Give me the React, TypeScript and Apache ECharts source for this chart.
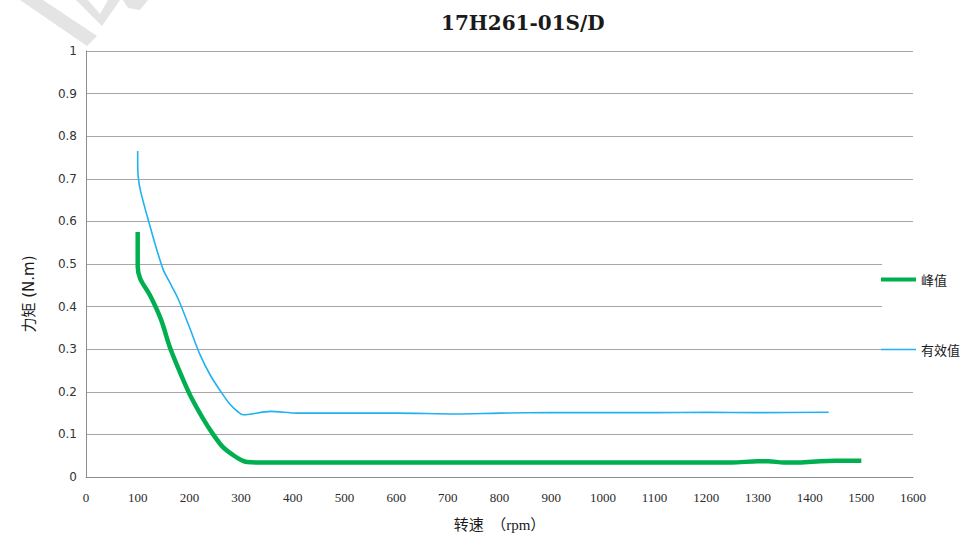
import React, { useEffect, useRef } from "react";
import * as echarts from "echarts";

const titleText = "17H261-01S/D";
const seriesNames = ["峰值", "有效值"];
const xTicks = { min: 0, max: 1600, interval: 100 };
const yTicks = { min: 0, max: 1, interval: 0.1 };

const peakData: [number, number][] = [
  [100, 0.575], [100, 0.495], [105, 0.465], [124, 0.426], [145, 0.37],
  [163, 0.302], [182, 0.245], [201, 0.193], [225, 0.14], [246, 0.1],
  [265, 0.07], [285, 0.051], [300, 0.04], [312, 0.035], [350, 0.034],
  [400, 0.034], [500, 0.034], [600, 0.034], [700, 0.034], [800, 0.034],
  [900, 0.034], [1000, 0.034], [1100, 0.034], [1200, 0.034], [1250, 0.034],
  [1300, 0.037], [1320, 0.037], [1350, 0.034], [1380, 0.034], [1420, 0.037],
  [1450, 0.038], [1500, 0.038],
];

const rmsData: [number, number][] = [
  [100, 0.765], [100, 0.74], [101, 0.705], [105, 0.674], [124, 0.588],
  [149, 0.488], [165, 0.45], [178, 0.419], [200, 0.352], [221, 0.286],
  [240, 0.24], [260, 0.202], [279, 0.17], [295, 0.152], [304, 0.146],
  [320, 0.148], [357, 0.154], [409, 0.15], [500, 0.15], [600, 0.15],
  [716, 0.148], [800, 0.15], [900, 0.151], [1000, 0.151], [1100, 0.151],
  [1200, 0.152], [1300, 0.151], [1437, 0.152],
];

const GREEN = "#00b050";
const BLUE = "#20b2f0";

export default function App() {
  const ref = useRef<HTMLDivElement>(null);
  useEffect(() => {
    if (!ref.current) return;
    const chart = echarts.init(ref.current, null, { renderer: "svg" });
    chart.setOption({
      animation: false,
      backgroundColor: "#ffffff",
      title: {
        text: titleText,
        left: 436,
        top: 8,
        textStyle: {
          fontFamily: "DejaVu Serif",
          fontWeight: "bold",
          fontSize: 20,
          color: "#1a1a1a",
        },
      },
      grid: { left: 86, right: 58, top: 51, bottom: 56, containLabel: false },
      xAxis: {
        type: "value",
        min: xTicks.min,
        max: xTicks.max,
        interval: xTicks.interval,
        name: "转速  （rpm）",
        nameLocation: "middle",
        nameGap: 40,
        nameTextStyle: {
          fontFamily: "Liberation Serif, Noto Sans CJK SC",
          fontSize: 15,
          color: "#1a1a1a",
        },
        axisLine: { show: true, lineStyle: { color: "#8c8c8c", width: 1 } },
        axisTick: { show: false },
        splitLine: { show: false },
        axisLabel: {
          margin: 14,
          fontFamily: "Liberation Serif",
          fontSize: 13,
          color: "#2a2a2a",
          formatter: (v: number) => String(v),
        },
      },
      yAxis: {
        type: "value",
        min: yTicks.min,
        max: yTicks.max,
        interval: yTicks.interval,
        axisLine: { show: true, lineStyle: { color: "#8c8c8c", width: 1 } },
        axisTick: { show: false },
        splitLine: { show: true, lineStyle: { color: "#a6a6a6", width: 1 } },
        axisLabel: {
          margin: 9,
          fontFamily: "DejaVu Sans",
          fontSize: 12,
          color: "#333333",
          formatter: (v: number) => String(Math.round(v * 10) / 10),
        },
      },
      legend: [
        {
          data: [seriesNames[0]],
          icon: "rect",
          left: 881,
          top: 273,
          itemWidth: 35,
          itemHeight: 4,
          itemGap: 5,
          padding: 0,
          textStyle: { fontFamily: "Noto Sans CJK SC", fontSize: 13, color: "#1a1a1a" },
        },
        {
          data: [seriesNames[1]],
          icon: "rect",
          left: 881,
          top: 343,
          itemWidth: 35,
          itemHeight: 1.5,
          padding: 0,
          textStyle: { fontFamily: "Noto Sans CJK SC", fontSize: 13, color: "#1a1a1a" },
        },
      ],
      graphic: [
        {
          type: "rect",
          z: 3,
          shape: { x: 882, y: 258, width: 89, height: 110 },
          style: { fill: "#ffffff" },
        },
        {
          type: "polygon",
          z: 1,
          shape: { points: [[20, 0], [43, 0], [97, 36], [87, 46]] },
          style: { fill: "#e4e4e4" },
        },
        {
          type: "polygon",
          z: 1,
          shape: { points: [[76, 0], [88, 0], [100, 14], [108, 0], [120, 0], [102, 26]] },
          style: { fill: "#e4e4e4" },
        },
        {
          type: "polygon",
          z: 1,
          shape: { points: [[123, 0], [148, 0], [140, 10], [128, 8]] },
          style: { fill: "#e4e4e4" },
        },
        {
          type: "text",
          z: 5,
          x: 29,
          y: 294,
          rotation: Math.PI / 2,
          style: {
            text: "力矩 (N.m)",
            fontFamily: "DejaVu Sans, Noto Sans CJK SC",
            fontSize: 15,
            fill: "#1a1a1a",
            textAlign: "center",
            textVerticalAlign: "middle",
          },
        },
      ],
      series: [
        {
          name: seriesNames[0],
          type: "line",
          data: peakData,
          smooth: 0.3,
          symbol: "none",
          lineStyle: { color: GREEN, width: 4.5 },
          itemStyle: { color: GREEN },
          z: 3,
        },
        {
          name: seriesNames[1],
          type: "line",
          data: rmsData,
          smooth: 0.3,
          symbol: "none",
          lineStyle: { color: BLUE, width: 1.6 },
          itemStyle: { color: BLUE },
          z: 3,
        },
      ],
    });
    return () => chart.dispose();
  }, []);
  return (
    <div
      ref={ref}
      style={{ position: "fixed", left: 0, top: 0, width: 971, height: 537 }}
    />
  );
}
